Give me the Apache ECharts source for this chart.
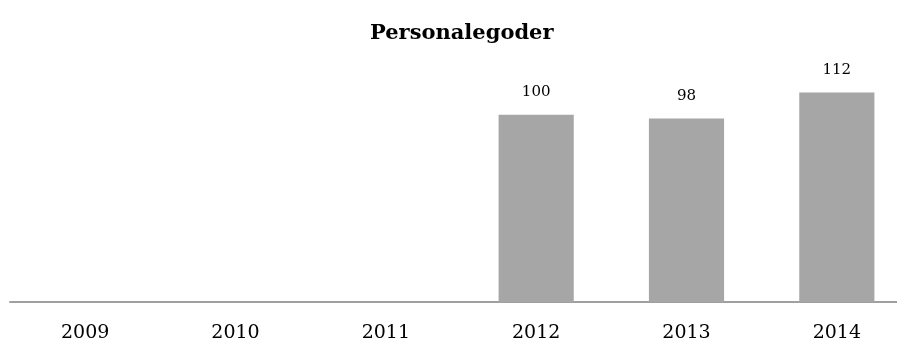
<!DOCTYPE html>
<html>
<head>
<meta charset="utf-8">
<script src="https://cdn.jsdelivr.net/npm/echarts@6/dist/echarts.min.js"></script>
<style>
  html, body { margin: 0; padding: 0; background: #fff; }
  #chart { width: 897px; height: 345px; }
</style>
</head>
<body>
<div id="chart"></div>
<script>
// data
const years = ['2009', '2010', '2011', '2012', '2013', '2014'];
const values = [null, null, null, 100, 98, 112];

const chart = echarts.init(document.getElementById('chart'));

chart.setOption({
  animation: false,
  title: {
    text: 'Personalegoder',
    left: 365,
    top: 18,
    textStyle: {
      fontFamily: 'DejaVu Serif',
      fontWeight: 'bold',
      fontSize: 21,
      color: '#000'
    }
  },
  // plot area runs past the right edge, like the source
  grid: { left: 10, width: 902, top: 40, bottom: 43, outerBoundsMode: 'none', containLabel: false },
  xAxis: {
    type: 'category',
    data: years,
    axisTick: { show: false },
    axisLine: { lineStyle: { color: '#a0a0a0', width: 2 } },
    axisLabel: {
      margin: 22,
      fontFamily: 'DejaVu Serif',
      fontSize: 19,
      color: '#000'
    }
  },
  yAxis: {
    type: 'value',
    min: 0,
    max: 140,
    show: false,
    splitLine: { show: false }
  },
  series: [{
    type: 'bar',
    data: values,
    barWidth: '50%',
    itemStyle: { color: '#a6a6a6' },
    label: {
      show: true,
      position: 'top',
      distance: 15,
      fontFamily: 'DejaVu Serif',
      fontSize: 15,
      color: '#000'
    }
  }]
});
</script>
</body>
</html>
